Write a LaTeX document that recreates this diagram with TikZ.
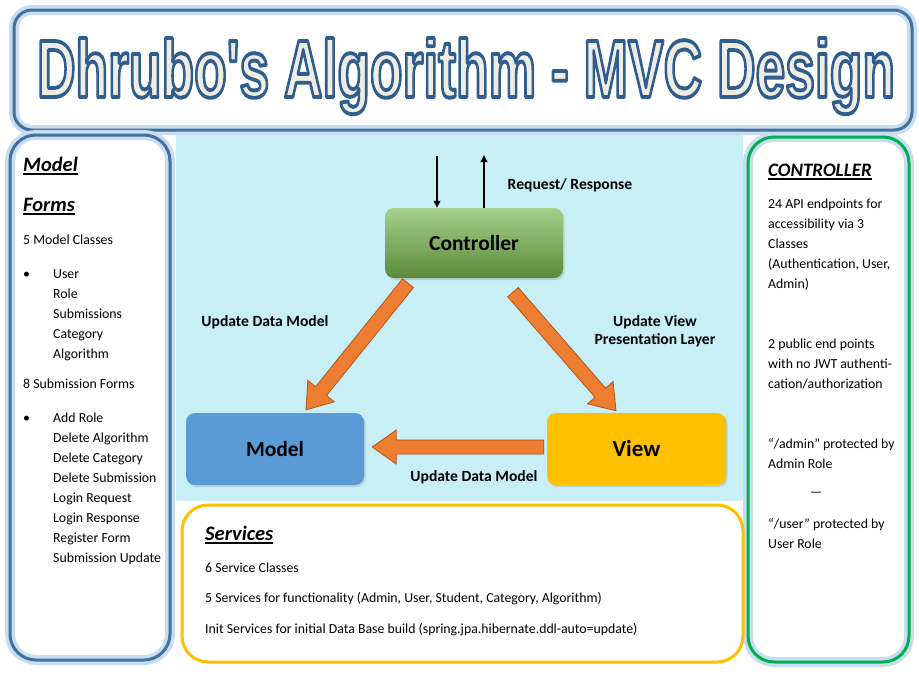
\documentclass[tikz,border=0pt]{standalone}
\usepackage{fontspec}
\setmainfont{Carlito}
\newfontfamily\bannerfont{Liberation Sans}
\usetikzlibrary{calc,arrows.meta,shadows}

\definecolor{boxblue}{HTML}{41719C}
\definecolor{glowblue}{HTML}{C9DDF1}
\definecolor{bannercream}{HTML}{EFEDE3}
\definecolor{panelcyan}{HTML}{C8EEF6}
\definecolor{ctrlgreen}{HTML}{00B050}
\definecolor{svcgold}{HTML}{FFC000}
\definecolor{ctrltop}{HTML}{A6D08A}
\definecolor{ctrlbot}{HTML}{5A8A3A}
\definecolor{modelfill}{HTML}{5B9BD5}
\definecolor{viewfill}{HTML}{FFC000}
\definecolor{arroworange}{HTML}{ED7D31}
\definecolor{arrowedge}{HTML}{B5561A}

% underlined heading with a heavier rule
\newcommand{\hdul}[1]{\sbox0{#1}\usebox0\llap{\rule[-3.5pt]{\wd0}{1.5pt}}}
% outlined lettering: fill + stroke text rendering, blue stroke
\newcommand{\outlined}[1]{%
  \special{pdf:literal direct 2 Tr 3.8 w 1 j 0.184 0.365 0.557 RG}#1%
  \special{pdf:literal direct 0 Tr}}

\tikzset{
  panelbox/.style={line width=3pt, rounded corners=#1,
    preaction={fill=white},
    preaction={draw=glowblue, line width=10pt}},
  bluebox/.style={panelbox=#1, draw=boxblue},
  greenbox/.style={panelbox=#1, draw=ctrlgreen},
  goldbox/.style={draw=svcgold, line width=3pt, rounded corners=#1, fill=white},
  mvcbox/.style={rounded corners=9pt, inner sep=0pt,
    font=\fontsize{21.5}{24}\selectfont\bfseries,
    drop shadow={opacity=0.25, shadow xshift=1.5pt, shadow yshift=-2pt}},
  body/.style={font=\fontsize{13.8}{16}\selectfont, inner sep=0pt, anchor=base west},
  head/.style={font=\fontsize{20.5}{24}\selectfont\bfseries\itshape, inner sep=0pt, anchor=base west},
  lbl/.style={font=\fontsize{15.6}{18}\selectfont\bfseries, inner sep=0pt, align=center},
  flowline/.style={line width=1.8pt, -{Triangle[length=7pt,width=6.5pt]}},
  blockarrow/.style={draw=arrowedge, fill=arroworange, line width=0.8pt, line join=miter,
    to path={let \p1=(\tikztostart), \p2=(\tikztotarget),
      \n1={atan2(\y2-\y1,\x2-\x1)}, \n2={veclen(\x2-\x1,\y2-\y1)-24pt},
      \n3={\n1+90}, \n4={\n1-90} in
      ($(\p1)+(\n3:7pt)$) -- ($(\p1)+(\n1:\n2)+(\n3:7pt)$)
      -- ($(\p1)+(\n1:\n2)+(\n3:17pt)$) -- (\p2)
      -- ($(\p1)+(\n1:\n2)+(\n4:17pt)$) -- ($(\p1)+(\n1:\n2)+(\n4:7pt)$)
      -- ($(\p1)+(\n4:7pt)$) -- cycle}}
}

\begin{document}
\begin{tikzpicture}[x=1pt, y=-1pt]
\useasboundingbox[fill=white] (0,0) rectangle (919,673);

% central diagram background
\fill[panelcyan] (176,132) rectangle (743,501);

% outer frames
\draw[bluebox=18pt] (14,10) rectangle (912,130);
\draw[bluebox=26pt] (10,135) rectangle (170,660);
\draw[greenbox=26pt] (748,137) rectangle (909,662);
\draw[goldbox=26pt] (182,505) rectangle (743,662);

% banner
\node[anchor=base, inner sep=0pt] (title) at (466,97)
  {\color{bannercream}\resizebox{858pt}{59pt}{\bannerfont\fontsize{80}{80}\selectfont\bfseries
   \outlined{Dhrubo\textquotesingle s Algorithm - MVC Design}}};

% MVC triangle
\node[mvcbox, top color=ctrltop, bottom color=ctrlbot, minimum width=178pt, minimum height=70pt]
  (ctrl) at (474,243) {Controller};
\node[mvcbox, fill=modelfill, minimum width=178pt, minimum height=72pt]
  (model) at (275,449) {Model};
\node[mvcbox, fill=viewfill, minimum width=179pt, minimum height=72pt,
  font=\fontsize{23}{26}\selectfont\bfseries] (view) at (636.5,449) {View};

\coordinate (reqin) at (437,156);
\coordinate (respout) at (484,155);
\draw[flowline] (reqin) -- (reqin |- ctrl.north);
\draw[flowline] (respout |- ctrl.north) -- (respout);
\node[lbl] (reqlbl) at (570,185) {Request/ Response};

\draw[blockarrow] ($(ctrl.south)+(-66,5)$) to ($(model.north)+(31,-3)$);
\draw[blockarrow] ($(ctrl.south)+(39,14)$) to ($(view.north)+(-20.5,-2)$);
\draw[blockarrow] ($(view.west)+(-3,-2)$) to ($(model.east)+(8,-2)$);

\node[lbl] (updmodel) at (265,322) {Update Data Model};
\node[lbl] (updview) at (655,331) {Update View\\[0pt]Presentation Layer};
\node[lbl] (viewmodel) at (474,477) {Update Data Model};

% Model / Forms column
\node[head] (hmodel) at (23,171) {\hdul{Model}};
\node[head] (hforms) at (23,211) {\hdul{Forms}};
\node[body] (nclasses) at (23,244) {5 Model Classes};
\node[body] (bulleta) at (23,278) {\textbullet};
\foreach \t [count=\i] in {User,Role,Submissions,Category,Algorithm}
  \node[body] (cls\i) at (53,{278+20*(\i-1)}) {\t};
\node[body] (nforms) at (23,388) {8 Submission Forms};
\node[body] (bulletb) at (23,422) {\textbullet};
\foreach \t [count=\i] in {Add Role,Delete Algorithm,Delete Category,Delete Submission,
    Login Request,Login Response,Register Form,Submission Update}
  \node[body] (frm\i) at (53,{422+20*(\i-1)}) {\t};

% Controller column
\node[head, font=\fontsize{19}{22}\selectfont\bfseries\itshape] (hctrl) at (768,176) {\hdul{CONTROLLER}};
\foreach \t [count=\i] in {24 API endpoints for,accessibility via 3,Classes,
    {(Authentication, User,},Admin)}
  \node[body] (api\i) at (768,{208+20*(\i-1)}) {\t};
\foreach \t [count=\i] in {2 public end points,with no JWT authenti-,cation/authorization}
  \node[body] (pub\i) at (768,{348+20*(\i-1)}) {\t};
\node[body] (adm1) at (768,448) {``/admin'' protected by};
\node[body] (adm2) at (768,468) {Admin Role};
\node[body, anchor=base] (sep) at (816,496) {\textemdash};
\node[body] (usr1) at (768,528) {``/user'' protected by};
\node[body] (usr2) at (768,548) {User Role};

% Services panel
\node[head] (hsvc) at (205,540) {\hdul{Services}};
\node[body] (svc1) at (205,572) {6 Service Classes};
\node[body] (svc2) at (205,602) {5 Services for functionality (Admin, User, Student, Category, Algorithm)};
\node[body] (svc3) at (205,633) {Init Services for initial Data Base build (spring.jpa.hibernate.ddl-auto=update)};
\end{tikzpicture}
\end{document}
